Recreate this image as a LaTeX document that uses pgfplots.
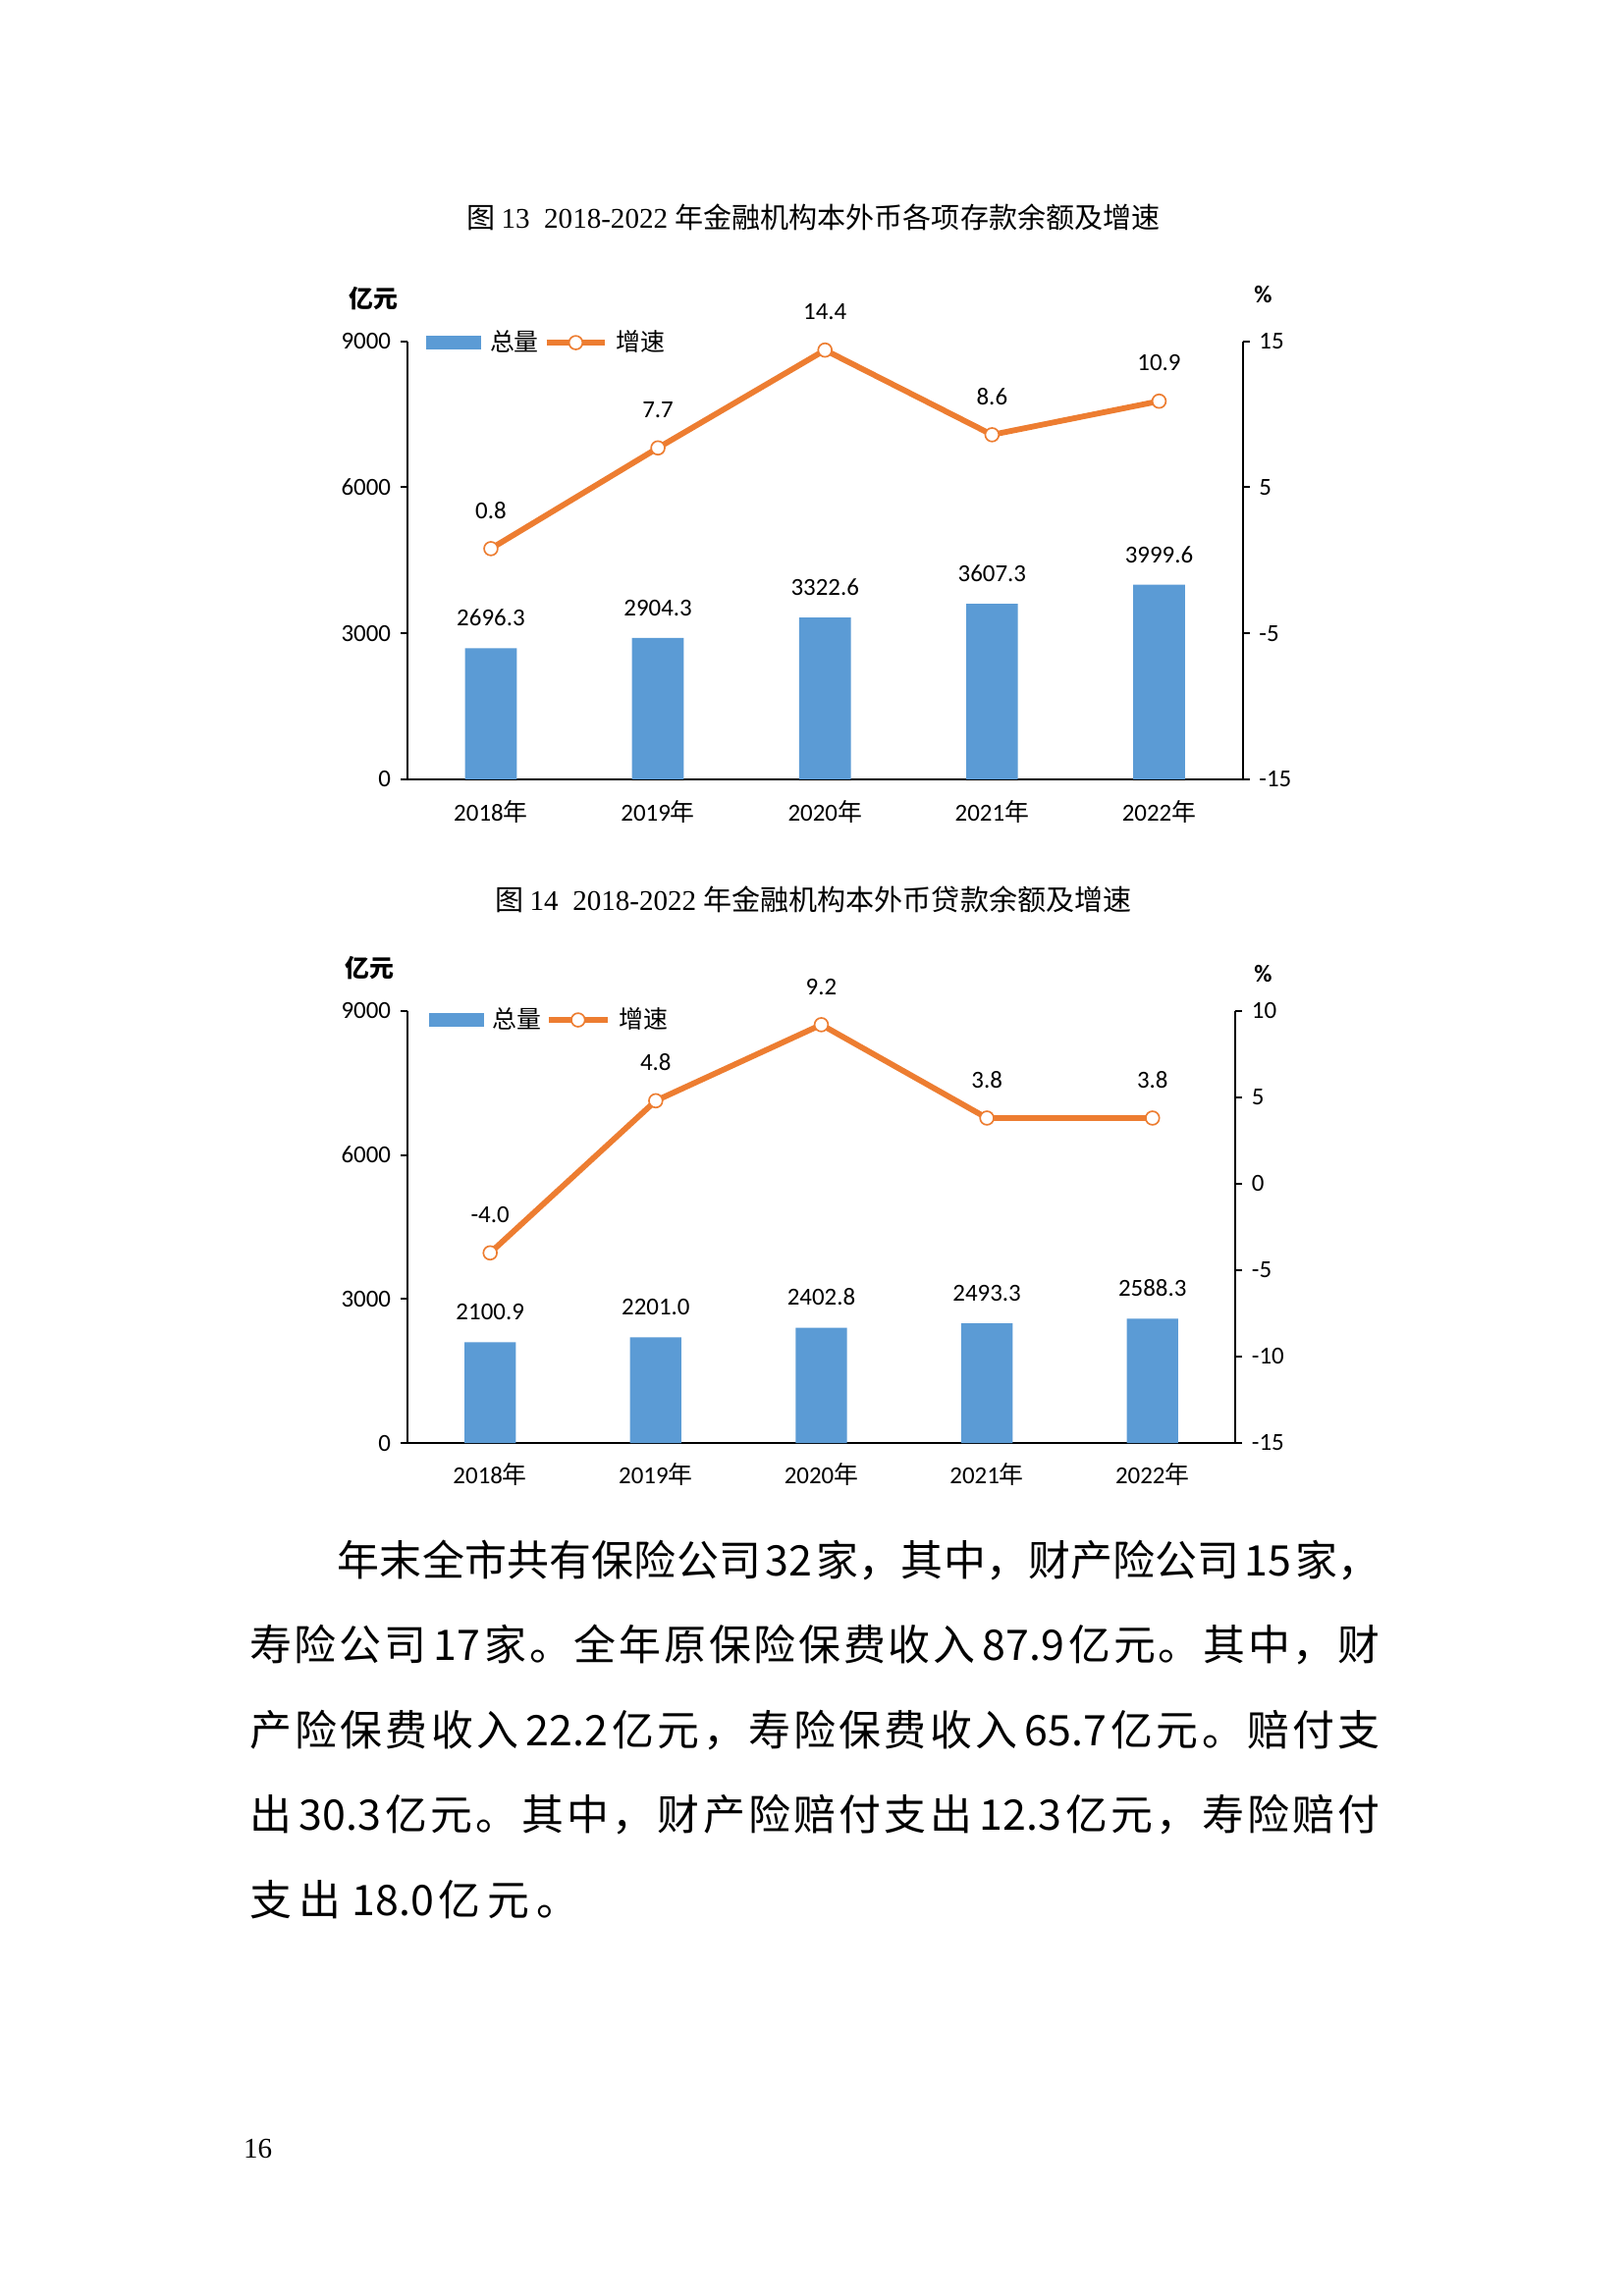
\documentclass[border=0pt]{standalone}
\usepackage{fontspec}
\usepackage{pgfplots}
\pgfplotsset{compat=1.18}
\setmainfont{Carlito}
\newfontfamily\cjk{Noto Sans CJK SC}
\newfontfamily\tnr{Liberation Serif}
\definecolor{barblue}{HTML}{5B9BD5}
\definecolor{lineorange}{HTML}{ED7D31}
\def\u{0.1895mm}
\newcommand\jline[2]{{\spaceskip=0pt plus 1fil\xspaceskip=0pt plus 1fil\relax\hbox to #1{#2}}}
\newcommand\n[1]{\kern0.1em#1\kern0.1em}
\pgfplotsset{
  chart/.style={scale only axis, xmin=-0.5, xmax=4.5, tick align=outside,
    major tick length=0.9mm,
    axis line style={line width=0.7pt, black},
    every tick/.style={line width=0.7pt, black},
    ticklabel style={font=\fontsize{9}{10}\selectfont},
    clip=false},
  barplot/.style={ybar, bar width=0.31, fill=barblue, draw=none,
    nodes near coords, point meta=explicit symbolic,
    every node near coord/.append style={font=\fontsize{9}{10}\selectfont, black, yshift=1.6mm}},
  lineplot/.style={color=lineorange, line width=2.1pt, mark=*, mark size=2.5pt,
    mark options={fill=white, draw=lineorange, line width=0.6pt},
    nodes near coords, point meta=explicit symbolic,
    every node near coord/.append style={font=\fontsize{9}{10}\selectfont, black, yshift=2.6mm},
    legend image code/.code={\draw[mark repeat=2,mark phase=2,##1] plot coordinates {(0mm,0mm) (3.8mm,0mm) (7.6mm,0mm)};}},
  barlegend/.style={legend image code/.code={\fill[barblue] (0mm,-0.85mm) rectangle (7mm,0.85mm);}},
  mylegend/.style={legend style={draw=none, fill=none, inner sep=0pt, anchor=west,
    font=\fontsize{9}{10}\selectfont, legend columns=-1,
    nodes={inner sep=0.6mm},
    /tikz/every odd column/.append style={column sep=0.5mm},
    /tikz/every even column/.append style={column sep=0mm}}},
}
\begin{document}
\begin{tikzpicture}
\path[fill=white,use as bounding box] (0,0) rectangle (210mm,-297mm);

% ---------- Chart 13 ----------
\node[font=\fontsize{10.5}{12}\selectfont] at (555*\u,-148*\u)
  {{\cjk 图 }{\tnr 13\ \ 2018-2022 }{\cjk 年金融机构本外币各项存款余额及增速}};
\begin{axis}[chart, at={(52.68mm,-100.81mm)}, anchor=south west,
  width=108.02mm, height=56.66mm,
  ymin=0, ymax=9000, ytick={0,3000,6000,9000}, yticklabels={0,3000,6000,9000},
  axis x line*=bottom, axis y line*=left,
  xtick={0,1,2,3,4},
  xticklabels={2018{\cjk 年},2019{\cjk 年},2020{\cjk 年},2021{\cjk 年},2022{\cjk 年}},
  x tick style={draw=none},
  xticklabel style={yshift=-0.6mm}]
\addplot[barplot] coordinates {(0,2696.3) [2696.3] (1,2904.3) [2904.3] (2,3322.6) [3322.6] (3,3607.3) [3607.3] (4,3999.6) [3999.6]};
\end{axis}
\begin{axis}[chart, at={(52.68mm,-100.81mm)}, anchor=south west,
  width=108.02mm, height=56.66mm,
  ymin=-15, ymax=15, ytick={-15,-5,5,15}, yticklabels={-15,-5,5,15},
  axis x line=none, axis y line*=right,
  mylegend, legend style={at={(0.022,0.997)}}]
\addlegendimage{barlegend}
\addlegendentry{\cjk 总量}
\addplot[lineplot] coordinates {(0,0.8) [0.8] (1,7.7) [7.7] (2,14.4) [14.4] (3,8.6) [8.6] (4,10.9) [10.9]};
\addlegendentry{\cjk 增速}
\end{axis}
\node[font=\fontsize{9}{10}\selectfont] at (255*\u,-204*\u) {\cjk\bfseries 亿元};
\node[font=\fontsize{9}{10}\selectfont\bfseries] at (862*\u,-201*\u) {\%};

% ---------- Chart 14 ----------
\node[font=\fontsize{10.5}{12}\selectfont] at (555*\u,-614*\u)
  {{\cjk 图 }{\tnr 14\ \ 2018-2022 }{\cjk 年金融机构本外币贷款余额及增速}};
\begin{axis}[chart, at={(52.68mm,-186.66mm)}, anchor=south west,
  width=107.07mm, height=55.90mm,
  ymin=0, ymax=9000, ytick={0,3000,6000,9000}, yticklabels={0,3000,6000,9000},
  axis x line*=bottom, axis y line*=left,
  xtick={0,1,2,3,4},
  xticklabels={2018{\cjk 年},2019{\cjk 年},2020{\cjk 年},2021{\cjk 年},2022{\cjk 年}},
  x tick style={draw=none},
  xticklabel style={yshift=-0.4mm}]
\addplot[barplot] coordinates {(0,2100.9) [2100.9] (1,2201.0) [2201.0] (2,2402.8) [2402.8] (3,2493.3) [2493.3] (4,2588.3) [2588.3]};
\end{axis}
\begin{axis}[chart, at={(52.68mm,-186.66mm)}, anchor=south west,
  width=107.07mm, height=55.90mm,
  ymin=-15, ymax=10, ytick={-15,-10,-5,0,5,10}, yticklabels={-15,-10,-5,0,5,10},
  axis x line=none, axis y line*=right,
  mylegend, legend style={at={(0.025,0.979)}}]
\addlegendimage{barlegend}
\addlegendentry{\cjk 总量}
\addplot[lineplot] coordinates {(0,-4.0) [-4.0] (1,4.8) [4.8] (2,9.2) [9.2] (3,3.8) [3.8] (4,3.8) [3.8]};
\addlegendentry{\cjk 增速}
\end{axis}
\node[font=\fontsize{9}{10}\selectfont] at (252*\u,-661*\u) {\cjk\bfseries 亿元};
\node[font=\fontsize{9}{10}\selectfont\bfseries] at (862*\u,-665*\u) {\%};

% ---------- Body text ----------
\begin{scope}[every node/.style={anchor=west, inner sep=0pt, font=\cjk\fontsize{15.5}{16}\selectfont}]
\node at (230*\u,-1065*\u) {\jline{134.8mm}{年 末 全 市 共 有 保 险 公 司 \n{32} 家 ， 其 中 ， 财 产 险 公 司 \n{15} 家 ，}};
\node at (170*\u,-1123*\u) {\jline{146.2mm}{寿 险 公 司 \n{17} 家 。 全 年 原 保 险 保 费 收 入 \n{87.9} 亿 元 。 其 中 ， 财}};
\node at (170*\u,-1181*\u) {\jline{146.2mm}{产 险 保 费 收 入 \n{22.2} 亿 元 ， 寿 险 保 费 收 入 \n{65.7} 亿 元 。 赔 付 支}};
\node at (170*\u,-1239*\u) {\jline{146.2mm}{出 \n{30.3} 亿 元 。 其 中 ， 财 产 险 赔 付 支 出 \n{12.3} 亿 元 ， 寿 险 赔 付}};
\node at (170*\u,-1297*\u) {\jline{42.6mm}{支 出 \n{18.0} 亿 元 。}};
\end{scope}
\node[font=\tnr\fontsize{10.5}{12}\selectfont] at (176*\u,-1467*\u) {16};
\end{tikzpicture}
\end{document}
